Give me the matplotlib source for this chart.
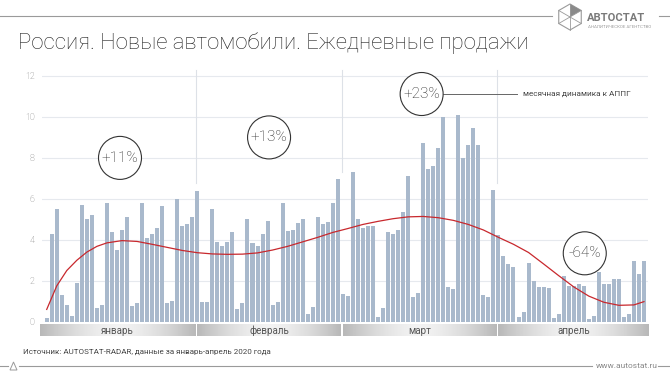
import numpy as np
import matplotlib.pyplot as plt
from matplotlib.patches import Ellipse, Polygon

# daily sales, thousand units
jan = [0.16, 4.3, 5.5, 1.3, 0.8, 0.28, 1.9, 5.7, 5.0, 5.2, 0.65, 0.8, 5.8, 4.4, 3.5, 4.5,
       5.1, 0.78, 0.93, 5.8, 4.1, 4.3, 4.6, 5.65, 0.9, 1.0, 6.0, 4.65, 4.75, 5.1, 6.4]
feb = [0.94, 0.94, 5.5, 3.9, 3.7, 3.9, 4.4, 0.62, 0.9, 5.0, 3.85, 3.7, 4.3, 4.9, 0.8,
       0.94, 5.8, 4.45, 4.5, 4.8, 5.0, 0.37, 0.73, 5.1, 4.75, 4.85, 5.8, 6.95, 1.33]
mar = [1.27, 7.3, 5.04, 4.6, 4.67, 4.67, 0.23, 0.65, 4.39, 4.26, 4.5, 5.37, 7.1, 1.22,
       1.38, 8.75, 7.48, 7.59, 8.46, 10.0, 1.7, 1.6, 10.08, 8.0, 8.65, 9.48, 8.65, 1.3,
       1.19, 6.42, 4.23]
apr = [3.22, 2.81, 2.65, 0.24, 0.46, 2.89, 2.0, 1.7, 1.7, 1.63, 0.18, 0.37, 2.23, 1.76,
       1.76, 1.84, 1.74, 0.13, 0.29, 2.44, 1.84, 1.84, 2.08, 2.08, 0.24, 0.39, 2.96, 2.33,
       2.96]
months = ['январь', 'февраль', 'март', 'апрель']

# red trend line, read at a few days
trend_day = [0, 2, 4, 6, 8, 10, 12, 15, 18, 21, 24, 27, 30, 33, 36, 39, 42, 45, 48, 51,
             54, 57, 60, 63, 66, 69, 72, 75, 78, 81, 84, 87, 90, 93, 96, 99, 102, 105,
             108, 111, 114, 117, 119]
trend_val = [0.6, 1.75, 2.5, 3.0, 3.4, 3.68, 3.85, 3.96, 3.92, 3.78, 3.63, 3.48, 3.37,
             3.31, 3.29, 3.3, 3.36, 3.5, 3.68, 3.9, 4.12, 4.36, 4.55, 4.75, 4.9, 5.03,
             5.12, 5.14, 5.08, 4.95, 4.75, 4.48, 4.12, 3.78, 3.38, 2.82, 2.25, 1.7, 1.25,
             0.95, 0.8, 0.82, 0.98]

growth = ['+11%', '+13%', '+23%', '-64%']

sales = jan + feb + mar + apr
month_days = [len(jan), len(feb), len(mar), len(apr)]
days = np.arange(len(sales))

plt.rcParams['font.family'] = ['Roboto', 'DejaVu Sans']

W, H = 670, 376
fig = plt.figure(figsize=(W / 100, H / 100), dpi=100)

# plot area: x px 41.7..648, y px 321.7 (0) .. 67.8 (12.4)
ax = fig.add_axes([41.7 / W, (H - 321.7) / H, (648 - 41.7) / W, (321.7 - 67.8) / H])
ax.bar(days, sales, width=0.8, color='#a9b9cc', zorder=2)
ax.plot(trend_day, trend_val, color='#c8282d', lw=0.9, zorder=3)

ax.set_xlim(-1, 119.8)
ax.set_ylim(0, 12.4)
ax.set_yticks(range(0, 13, 2))
ax.set_xticks([])
ax.grid(axis='y', color='#e6e9ee', lw=0.8, zorder=0)
ax.set_axisbelow(True)
for s in ax.spines.values():
    s.set_visible(False)
ax.tick_params(axis='y', length=0, pad=5, labelsize=6.5, labelcolor='#777')
for lab in ax.get_yticklabels():
    lab.set_fontweight('light')

# month separators and bands
ends = np.cumsum(month_days) - 1
seps = ends[:-1] - 0.2
for d, xs in zip(ends[:-1], seps):
    ybot = max(sales[d - 1], sales[d]) + 0.37
    ax.plot([xs, xs], [ybot, 12.3], color='#dde1e7', lw=0.8, zorder=1, clip_on=False)

t = np.linspace(0, 1, 200)
grad = 0.72 + 0.23 * (1 - np.abs(2 * t - 1) ** 1.6)
bounds = [-1.35] + list(seps) + [120.2]
for i, m in enumerate(months):
    x0 = bounds[i] + (0.2 if i > 0 else 0)
    x1 = bounds[i + 1] - 0.2
    ax.imshow(grad[None, :], cmap='gray', vmin=0, vmax=1, aspect='auto',
              extent=(x0, x1, -0.7, -0.16), clip_on=False, zorder=1)
    ax.text((x0 + x1) / 2, -0.45, m, ha='center', va='center', fontsize=7,
            color='#555', clip_on=False)
ax.set_xlim(-1, 119.8)
ax.set_ylim(0, 12.4)

# monthly growth circles
circ_pos = [(14.6, 8.0), (44.3, 9.0), (74.7, 11.12), (107.2, 3.34)]
cw, ch = 43 / 5.02, 43 / 20.475
for (cx, cy), g in zip(circ_pos, growth):
    ax.add_patch(Ellipse((cx, cy), cw, ch, facecolor='white', edgecolor='#333',
                         lw=0.8, zorder=5, clip_on=False))
    ax.text(cx, cy, g, ha='center', va='center', fontsize=11, fontweight='light',
            color='#222', zorder=6)
ax.plot([74.7 + cw / 2, 93.7], [11.12, 11.12], color='#666', lw=0.7, zorder=4)
ax.text(94.9, 11.12, 'месячная динамика к АППГ', ha='left', va='center',
        fontsize=5.9, color='#444')

# decoration in pixel coordinates
ov = fig.add_axes([0, 0, 1, 1], zorder=-1)
ov.set_xlim(0, W)
ov.set_ylim(H, 0)
ov.axis('off')

ov.text(18, 43, 'Россия. Новые автомобили. Ежедневные продажи', ha='left',
        va='center', fontsize=15.9, fontweight='light', color='#222')
ov.text(46, 72, 'тыс. штук', ha='left', va='center', fontsize=4.5, color='#666')
ov.text(23, 352, 'Источник: AUTOSTAT-RADAR, данные за январь-апрель 2020 года',
        ha='left', va='center', fontsize=5.8, color='#444')

# top rule and logo
ov.plot([0, 552], [16, 16], color='#9a9a9a', lw=0.8)
ov.plot([659, 670], [16, 16], color='#9a9a9a', lw=0.8)
cx, cy, r = 570, 17, 13
ang = np.deg2rad(90 + 60 * np.arange(6))
vx, vy = cx + r * np.cos(ang), cy - r * np.sin(ang)
ov.add_patch(Polygon(np.c_[vx, vy], closed=True, fill=False, ec='#9a9a9a', lw=0.8))
for k in range(6):
    ov.plot([cx, vx[k]], [cy, vy[k]], color='#9a9a9a', lw=0.6)
ov.add_patch(Polygon([[cx, cy], [vx[0], vy[0]], [vx[5], vy[5]]], closed=True,
                     fc='#8a8a8a', ec='none'))
ov.text(587, 18, 'АВТОСТАТ', ha='left', va='center', fontsize=8, fontweight='bold',
        color='#7a7a7a')
ov.text(588, 27, 'АНАЛИТИЧЕСКОЕ АГЕНТСТВО', ha='left', va='center', fontsize=3.2,
        color='#999')

# bottom rule
ov.plot([0, 8], [366, 366], color='#9a9a9a', lw=0.8)
ov.plot([19, 592], [366, 366], color='#9a9a9a', lw=0.8)
ov.add_patch(Polygon([[10, 370], [17, 370], [13.5, 362]], closed=True, fill=False,
                     ec='#9a9a9a', lw=0.7))
ov.text(596, 366, 'www.autostat.ru', ha='left', va='center', fontsize=6,
        color='#888')
ov.plot([658, 670], [366, 366], color='#9a9a9a', lw=0.8)

fig.savefig('out.png', dpi=100, facecolor='white')
